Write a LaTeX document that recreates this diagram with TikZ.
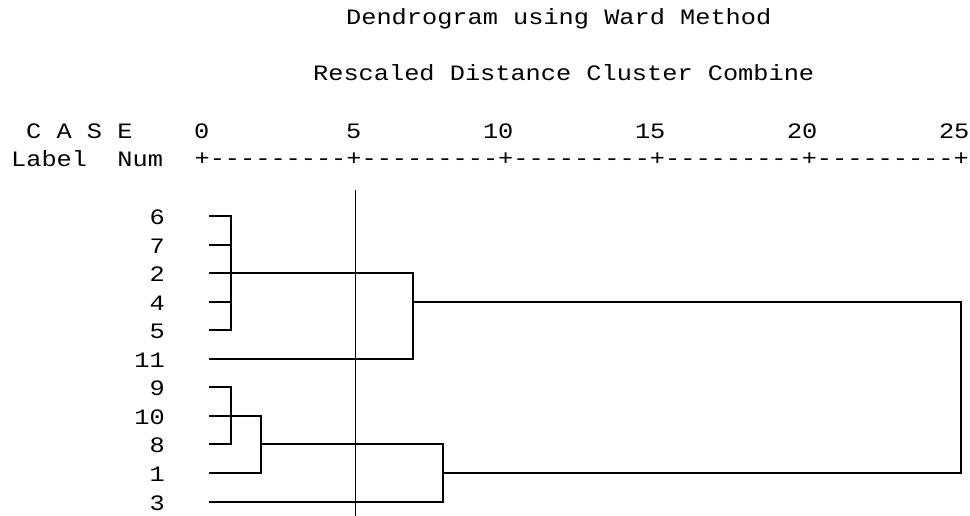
\documentclass[tikz,border=0pt]{standalone}
\usepackage{fontspec}
\setmonofont[FakeStretch=1.15]{Liberation Mono}

\tikzset{every node/.style={font=\ttfamily\fontsize{22}{22}\selectfont,inner sep=0pt},
  tree/.style={line width=1.4pt},
  cutline/.style={line width=0.8pt}}
% case label and the start of its leaf line
\newcommand{\casept}[2]{\node[anchor=east] (c#1) at (165,#2+1) {#1};
  \coordinate (l#1) at (209,#2)}
\newcommand{\tick}[2]{\node[anchor=east] (t#1) at (#2+7.6,131) {#1}}

\begin{document}
\begin{tikzpicture}[x=1pt,y=-1pt]
  \useasboundingbox (0,0) rectangle (970,516);

  \node[anchor=west] (title) at (346,19) {Dendrogram using Ward Method};
  \node[anchor=west] (subtitle) at (313,73) {Rescaled Distance Cluster Combine};

  \node[anchor=west] (case) at (26,131) {C A S E};
  \node[anchor=west] (lbl) at (11,159) {Label\ \ Num};
  \tick{0}{202};
  \tick{5}{354};
  \tick{10}{506};
  \tick{15}{658};
  \tick{20}{810};
  \tick{25}{962};
  \node[anchor=west] (axis) at (194.4,159)
    {+---------+---------+---------+---------+---------+};

  \casept{6}{216};
  \casept{7}{245};
  \casept{2}{273};
  \casept{4}{302};
  \casept{5}{330};
  \casept{11}{359};
  \casept{9}{387};
  \casept{10}{416};
  \casept{8}{444};
  \casept{1}{473};
  \casept{3}{502};

  \coordinate (j1) at (231,273);
  \coordinate (j2) at (413,302);
  \coordinate (j3) at (231,416);
  \coordinate (j4) at (261,444);
  \coordinate (j5) at (443,473);
  \coordinate (j6) at (961,388);

  \draw[tree] (l6) -| (j1) (l5) -| (j1)
              (l7) -- (l7 -| j1) (l4) -- (l4 -| j1) (l2) -- (j1);
  \draw[tree] (j1) -| (j2) (l11) -| (j2);
  \draw[tree] (l9) -| (j3) (l8) -| (j3) (l10) -- (j3);
  \draw[tree] (j3) -| (j4) (l1) -| (j4);
  \draw[tree] (j4) -| (j5) (l3) -| (j5);
  \draw[tree] (j2) -| (j6) (j5) -| (j6);

  \coordinate (cuttop) at (355,190);
  \coordinate (cutbot) at (355,516);
  \draw[cutline] (cuttop) -- (cutbot);
\end{tikzpicture}
\end{document}
